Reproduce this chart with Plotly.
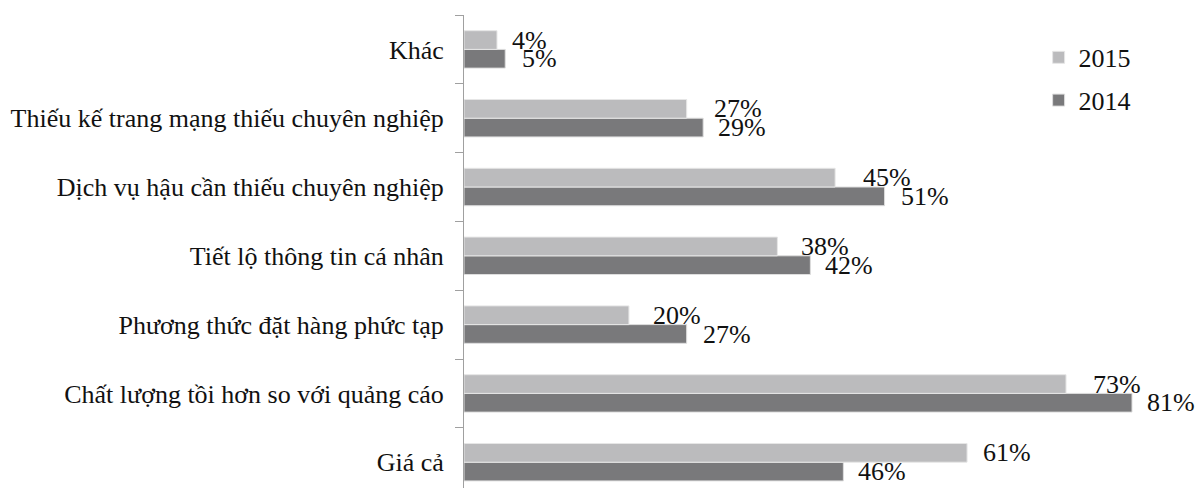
import plotly.graph_objects as go

# Categories, listed bottom-to-top as they sit on the y axis
categories = [
    "Giá cả",
    "Chất lượng tồi hơn so với quảng cáo",
    "Phương thức đặt hàng phức tạp",
    "Tiết lộ thông tin cá nhân",
    "Dịch vụ hậu cần thiếu chuyên nghiệp",
    "Thiếu kế trang mạng thiếu chuyên nghiệp",
    "Khác",
]
values_2015 = [61, 73, 20, 38, 45, 27, 4]
values_2014 = [46, 81, 27, 42, 51, 29, 5]

# Horizontal pixel nudges for the value labels
label_shift_2015 = [16, 27, 24, 24, 28, 27, 15]
label_shift_2014 = [15, 15, 16, 15, 16, 15, 17]

FONT = "Liberation Serif, Times New Roman, serif"
FONT_SIZE = 26
COLOR_2015 = "#bbbbbd"
COLOR_2014 = "#79797b"

fig = go.Figure()
fig.add_trace(go.Bar(
    y=categories, x=values_2014, orientation="h", name="2014",
    legendgroup="g2014", legendrank=2,
    marker=dict(color=COLOR_2014, line=dict(color="#dedede", width=1)),
))
fig.add_trace(go.Bar(
    y=categories, x=values_2015, orientation="h", name="2015",
    legendgroup="g2015", legendrank=1,
    marker=dict(color=COLOR_2015, line=dict(color="#e6e6e6", width=1)),
))

bar_offset = 9.4  # half of a bar's height in px
label_font = dict(family=FONT, size=FONT_SIZE, color="#111")
annotations = []
for cat, v15, v14, s15, s14 in zip(categories, values_2015, values_2014,
                                   label_shift_2015, label_shift_2014):
    annotations.append(dict(x=v15, y=cat, text=f"{v15}%", showarrow=False,
                            xanchor="left", yanchor="middle",
                            xshift=s15 - 2, yshift=bar_offset,
                            font=label_font))
    annotations.append(dict(x=v14, y=cat, text=f"{v14}%", showarrow=False,
                            xanchor="left", yanchor="middle",
                            xshift=s14 - 2, yshift=-bar_offset,
                            font=label_font))

fig.update_layout(
    width=1196, height=488,
    margin=dict(l=464, r=0, t=15, b=0),
    paper_bgcolor="white", plot_bgcolor="white",
    barmode="group", bargap=0.456, bargroupgap=0,
    font=dict(family=FONT, size=FONT_SIZE, color="#111"),
    showlegend=True,
    legend=dict(
        x=0.785, y=0.96, xanchor="left", yanchor="top",
        traceorder="grouped", tracegroupgap=6,
        font=dict(family=FONT, size=FONT_SIZE, color="#111"),
        bgcolor="rgba(0,0,0,0)",
    ),
    annotations=annotations,
    xaxis=dict(range=[0, 88.76], visible=False, fixedrange=True),
    yaxis=dict(
        type="category", categoryorder="array", categoryarray=categories,
        range=[-0.375, 6.5],
        showline=True, linecolor="#a0a0a0", linewidth=1,
        ticks="outside", tickson="boundaries", ticklen=8,
        tickcolor="#a0a0a0", tickwidth=1,
        ticklabelstandoff=14,
        showgrid=False, zeroline=False,
        tickfont=dict(family=FONT, size=FONT_SIZE, color="#111"),
    ),
)

fig.write_html("out.html")
